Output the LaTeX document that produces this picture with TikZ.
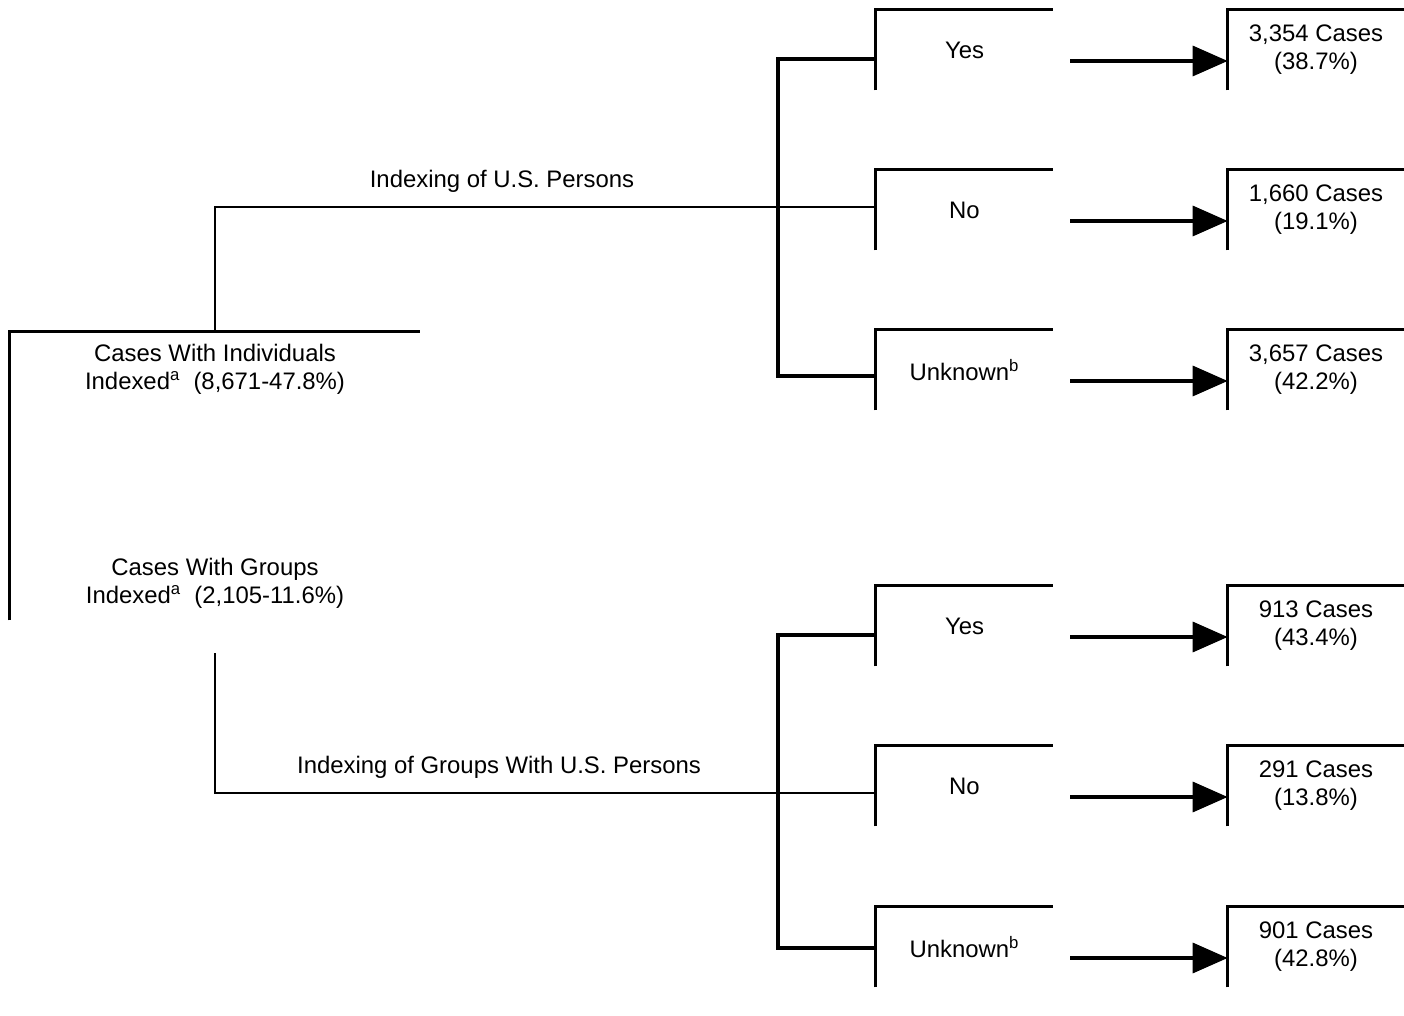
\documentclass[tikz,border=0pt]{standalone}
\usepackage{fontspec}
\setmainfont{Liberation Sans}
\usetikzlibrary{arrows.meta}
\tikzset{ %font = \fontsize{13.5}{16}\selectfont,
  >={Triangle[length=7mm,width=6mm]},
  {box line/.style} ={line width=1.9pt},
  {link/.style} ={line width=1.5pt},
  {arrow/.style} ={line width=1.9pt,->},
  {choice/.style} ={minimum width=3.54cm, minimum height=1.6cm,
                    inner sep=0, align=center},
  {result/.style} ={choice, minimum width=3.52cm},
  {branch text/.style} ={inner sep=0},
}

\begin{document}
\begin{tikzpicture}[x=0.02cm,y=-0.02cm,
  font=\fontsize{13.6}{16}\selectfont]
\useasboundingbox (0,0) rectangle (1404,1016);

% left block
\node[minimum width=8.2cm, minimum height=5.76cm, inner sep=0] (root) at (215,476) {};
\node[align=center] (indiv) at ([yshift=-7.6mm]root.north)
  {Cases With Individuals\\Indexed\textsuperscript{a}\ \ (8,671-47.8\%)};
\node[align=center] (group) at ([yshift=7.4mm]root.south)
  {Cases With Groups\\Indexed\textsuperscript{a}\ \ (2,105-11.6\%)};

% middle boxes
\node[choice] (yes1) at (964.5,50) {Yes};
\node[choice] (no1) at (964.5,210) {No};
\node[choice] (unk1) at (964.5,370) {Unknown\textsuperscript{b}};
\node[choice] (yes2) at (964.5,626) {Yes};
\node[choice] (no2) at (964.5,786) {No};
\node[choice] (unk2) at (964.5,947) {Unknown\textsuperscript{b}};

% right boxes
\node[result] (r1) at (1316,50) {3,354 Cases\\(38.7\%)};
\node[result] (r2) at (1316,210) {1,660 Cases\\(19.1\%)};
\node[result] (r3) at (1316,370) {3,657 Cases\\(42.2\%)};
\node[result] (r4) at (1316,626) {913 Cases\\(43.4\%)};
\node[result] (r5) at (1316,786) {291 Cases\\(13.8\%)};
\node[result] (r6) at (1316,947) {901 Cases\\(42.8\%)};

\foreach \n in {root,yes1,no1,unk1,yes2,no2,unk2,r1,r2,r3,r4,r5,r6}
  \draw[box line] (\n.south west) |- (\n.north east);

% branches
\coordinate (fork1) at (778,210);
\coordinate (fork2) at (778,786);
\draw[link] (root.north) |- ([yshift=0.06cm]no1.west);
\draw[link] ([yshift=-6.6mm]root.south) |- ([yshift=-1.4mm]no2.west);
\draw[box line] ([yshift=-1.8mm]yes1.west) -| (fork1) |- ([yshift=-1.2mm]unk1.west);
\draw[box line] ([yshift=-1.8mm]yes2.west) -| (fork2) |- ([yshift=-0.2mm]unk2.west);

\node[branch text] (lab1) at (502,181) {Indexing of U.S. Persons};
\node[branch text] (lab2) at (499,767) {Indexing of Groups With U.S. Persons};

\foreach \b/\r in {yes1/r1,no1/r2,unk1/r3,yes2/r4,no2/r5,unk2/r6}
  \draw[arrow] ([xshift=3.4mm,yshift=-2.2mm]\b.east) -- ([yshift=-2.2mm]\r.west);
\end{tikzpicture}
\end{document}
